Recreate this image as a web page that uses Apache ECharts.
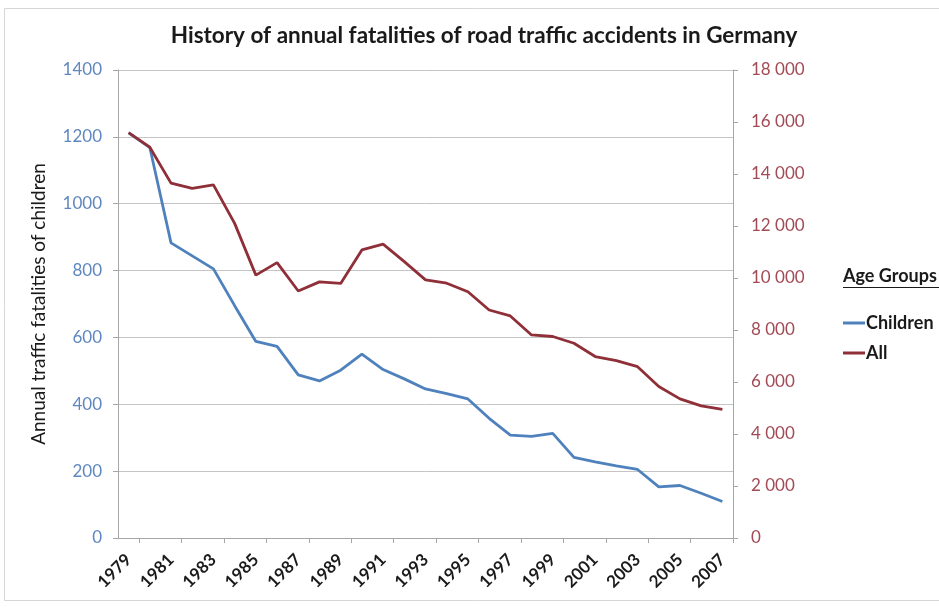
<!DOCTYPE html>
<html>
<head>
<meta charset="utf-8">
<title>Road traffic fatalities in Germany</title>
<script src="https://cdn.jsdelivr.net/npm/echarts@6/dist/echarts.min.js"></script>
<style>
    html, body { margin: 0; padding: 0; background: #fff; }
    #chart_fatalities { width: 939px; height: 612px; }
</style>
</head>
<body>
<div id="chart_fatalities"></div>
<script>
/* ------------------------------------------------------------------------------
 *
 *  # History of annual fatalities of road traffic accidents in Germany
 *
 * ---------------------------------------------------------------------------- */

// Data
var years = ['1979', '1980', '1981', '1982', '1983', '1984', '1985', '1986', '1987', '1988',
             '1989', '1990', '1991', '1992', '1993', '1994', '1995', '1996', '1997', '1998',
             '1999', '2000', '2001', '2002', '2003', '2004', '2005', '2006', '2007'];

var children = [1212, 1168, 883, 844, 805, 695, 588, 573, 488, 470,
                502, 550, 504, 476, 446, 432, 416, 358, 308, 304,
                313, 241, 228, 216, 205, 153, 157, 134, 109];

var all = [15590, 15030, 13650, 13450, 13580, 12100, 10110, 10590, 9500, 9850,
           9790, 11080, 11300, 10630, 9930, 9800, 9470, 8770, 8540, 7810,
           7750, 7490, 6980, 6820, 6590, 5830, 5350, 5080, 4950];

var leftTicks = { min: 0, max: 1400, interval: 200 };
var rightTicks = { min: 0, max: 18000, interval: 2000 };

var seriesNames = ['Children', 'All'];


// Setup module
// ------------------------------

var FatalitiesChart = function() {

    var _fatalitiesChart = function() {
        if (typeof echarts == 'undefined') {
            console.warn('Warning - echarts.min.js is not loaded.');
            return;
        }

        var element = document.getElementById('chart_fatalities');
        if (!element) return;

        var chart = echarts.init(element);

        // space as thousands separator, like "18 000"
        var spaced = function(v) {
            return String(v).replace(/\B(?=(\d{3})+(?!\d))/g, ' ');
        };

        chart.setOption({

            color: ['#4f81bd', '#8f2f38'],

            textStyle: {
                fontFamily: 'Lato, "Open Sans", sans-serif'
            },

            animation: false,

            title: {
                text: 'History of annual fatalities of road traffic accidents in Germany',
                left: 479,
                textAlign: 'center',
                top: 19,
                textStyle: {
                    fontSize: 22.5,
                    fontWeight: 'bold',
                    color: '#1a1a1a'
                }
            },

            grid: {
                left: 118,
                right: 206,
                top: 70,
                bottom: 74
            },

            // Legend block on the right
            legend: {
                data: seriesNames,
                orient: 'vertical',
                left: 838,
                top: 309,
                icon: 'rect',
                itemWidth: 22,
                itemHeight: 3,
                itemGap: 12,
                textStyle: {
                    fontSize: 18,
                    fontWeight: 'bold',
                    color: '#1a1a1a',
                    padding: [0, 0, 0, -4]
                }
            },

            graphic: [
                {
                    type: 'rect',
                    shape: { x: 4.5, y: 8.5, width: 940, height: 592 },
                    style: { fill: 'none', stroke: '#d6d6d6', lineWidth: 1 }
                },
                {
                    type: 'text',
                    left: 843,
                    top: 267,
                    style: {
                        text: 'Age Groups',
                        font: 'bold 18px Lato, sans-serif',
                        fill: '#1a1a1a'
                    }
                },
                {
                    type: 'line',
                    shape: { x1: 843, y1: 287.5, x2: 939, y2: 287.5 },
                    style: { stroke: '#1a1a1a', lineWidth: 1 }
                }
            ],

            xAxis: [{
                type: 'category',
                data: years,
                boundaryGap: true,
                axisLine: {
                    lineStyle: { color: '#a6a6a6' }
                },
                axisTick: {
                    show: true,
                    length: 5,
                    interval: function(index) { return index % 2 === 1; },
                    lineStyle: { color: '#a6a6a6' }
                },
                axisLabel: {
                    interval: 1,
                    rotate: 45,
                    margin: 19,
                    fontSize: 17,
                    fontWeight: 'bold',
                    color: '#1a1a1a'
                }
            }],

            yAxis: [
                {
                    type: 'value',
                    position: 'left',
                    min: leftTicks.min,
                    max: leftTicks.max,
                    interval: leftTicks.interval,
                    name: 'Annual traffic fatalities of children',
                    nameLocation: 'middle',
                    nameGap: 70,
                    nameTextStyle: {
                        fontSize: 19,
                        color: '#1a1a1a'
                    },
                    axisLine: {
                        show: true,
                        lineStyle: { color: '#a6a6a6' }
                    },
                    axisTick: {
                        show: true,
                        length: 5,
                        lineStyle: { color: '#a6a6a6' }
                    },
                    axisLabel: {
                        margin: 16,
                        fontSize: 17,
                        color: '#5f87c0',
                        formatter: function(v) { return String(v); }
                    },
                    splitLine: {
                        show: true,
                        lineStyle: { color: '#c4c4c4' }
                    }
                },
                {
                    type: 'value',
                    position: 'right',
                    min: rightTicks.min,
                    max: rightTicks.max,
                    interval: rightTicks.interval,
                    axisLine: {
                        show: true,
                        lineStyle: { color: '#a6a6a6' }
                    },
                    axisTick: {
                        show: true,
                        length: 5,
                        lineStyle: { color: '#a6a6a6' }
                    },
                    axisLabel: {
                        margin: 18,
                        fontSize: 17,
                        color: '#a24a55',
                        formatter: spaced
                    },
                    splitLine: { show: false }
                }
            ],

            series: [
                {
                    name: seriesNames[0],
                    type: 'line',
                    yAxisIndex: 0,
                    data: children,
                    symbol: 'none',
                    lineStyle: { width: 2.8 }
                },
                {
                    name: seriesNames[1],
                    type: 'line',
                    yAxisIndex: 1,
                    data: all,
                    symbol: 'none',
                    lineStyle: { width: 2.8 }
                }
            ]
        });
    };

    return {
        init: function() {
            _fatalitiesChart();
        }
    }
}();


// Initialize module
// ------------------------------

document.addEventListener('DOMContentLoaded', function() {
    FatalitiesChart.init();
});
</script>
</body>
</html>
